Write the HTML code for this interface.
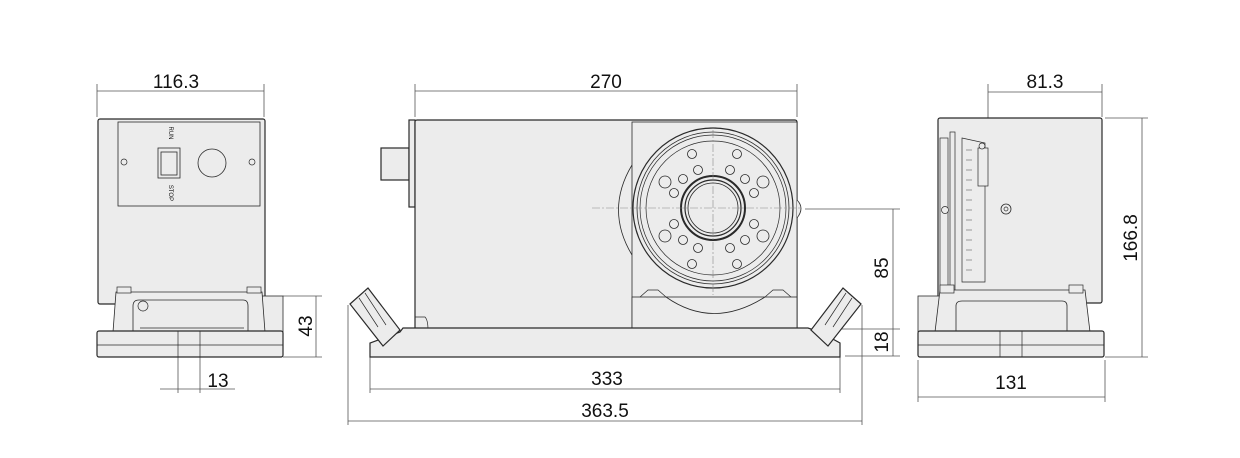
<!DOCTYPE html>
<html><head><meta charset="utf-8"><style>
html,body{margin:0;padding:0;background:#fff;}
svg{display:block;}
text{font-family:"Liberation Sans",Arial,sans-serif;fill:#111;}
</style></head><body>
<svg width="1240" height="458" viewBox="0 0 1240 458" xmlns="http://www.w3.org/2000/svg">
<g fill="none" stroke="#555" stroke-width="0.8">
<!-- LEFT dims -->
<line x1="97" y1="84" x2="97" y2="117"/><line x1="264" y1="84" x2="264" y2="117"/>
<line x1="97" y1="91" x2="264" y2="91"/>
<line x1="283" y1="296" x2="322" y2="296"/><line x1="283" y1="357" x2="322" y2="357"/>
<line x1="316" y1="296" x2="316" y2="357"/>
<line x1="178" y1="357" x2="178" y2="393"/><line x1="200" y1="357" x2="200" y2="393"/>
<line x1="160" y1="389" x2="235" y2="389"/>
<!-- MIDDLE dims -->
<line x1="415" y1="84" x2="415" y2="117"/><line x1="797" y1="84" x2="797" y2="117"/>
<line x1="415" y1="91" x2="797" y2="91"/>
<line x1="370" y1="345" x2="370" y2="393"/><line x1="840" y1="345" x2="840" y2="393"/>
<line x1="370" y1="389" x2="840" y2="389"/>
<line x1="348" y1="305" x2="348" y2="425"/><line x1="862" y1="305" x2="862" y2="425"/>
<line x1="348" y1="421" x2="862" y2="421"/>
<line x1="805" y1="209" x2="900" y2="209"/><line x1="815" y1="329" x2="900" y2="329"/><line x1="845" y1="356" x2="900" y2="356"/>
<line x1="893" y1="209" x2="893" y2="356"/>
<!-- RIGHT dims -->
<line x1="988" y1="84" x2="988" y2="125"/><line x1="1102" y1="84" x2="1102" y2="117"/>
<line x1="988" y1="92" x2="1102" y2="92"/>
<line x1="1105" y1="118" x2="1148" y2="118"/><line x1="1105" y1="357" x2="1148" y2="357"/>
<line x1="1142" y1="118" x2="1142" y2="357"/>
<line x1="918" y1="360" x2="918" y2="402"/><line x1="1105" y1="360" x2="1105" y2="402"/>
<line x1="918" y1="397" x2="1105" y2="397"/>
</g>

<g stroke="#2a2a2a" stroke-width="1.2" fill="#ececec">
<!-- LEFT VIEW -->
<rect x="98" y="119" width="167" height="185" rx="2"/>
<rect x="118" y="122" width="142" height="84" stroke-width="0.8"/>
<rect x="158" y="148" width="22" height="30" stroke-width="0.8"/>
<rect x="161" y="152" width="16" height="23" stroke-width="0.8"/>
<circle cx="212" cy="163" r="14" stroke-width="0.8"/>
<circle cx="124" cy="162" r="3" stroke-width="0.7"/>
<circle cx="252" cy="162" r="3" stroke-width="0.7"/>
<rect x="262" y="296" width="21" height="36" stroke-width="0.8"/>
<path d="M116 292 L262 292 L265 332 L113 332 Z" stroke-width="0.8"/>
<rect x="117" y="287" width="14" height="6" stroke-width="0.7"/>
<rect x="247" y="287" width="14" height="6" stroke-width="0.7"/>
<path d="M133 332 L133 306 Q133 300 139 300 L243 300 Q248 300 248 306 L248 332" stroke-width="0.8"/>
<path d="M140 328 L244 328" stroke-width="0.8"/>
<rect x="97" y="331" width="186" height="26" rx="2"/>
<line x1="97" y1="345" x2="283" y2="345" stroke-width="0.7"/>
<line x1="178" y1="331" x2="178" y2="357" stroke-width="0.7"/>
<line x1="200" y1="331" x2="200" y2="357" stroke-width="0.7"/>
<circle cx="143" cy="306" r="5" stroke-width="0.7"/>

<!-- MIDDLE VIEW -->
<rect x="381" y="148" width="28" height="32"/>
<rect x="409" y="120" width="6" height="87"/>
<rect x="415" y="120" width="382" height="210" rx="2"/>
<path d="M632 165 Q605 210 632 255" fill="none" stroke-width="0.8"/>
<rect x="632" y="122" width="165" height="205" stroke-width="0.8"/>
<path d="M797 200 Q805 208 797 218" stroke-width="0.8"/>
<rect x="632" y="297" width="165" height="33" stroke-width="0.8"/>
<path d="M640 297 L648 290 L658 290 L666 297 M765 297 L773 290 L783 290 L791 297" fill="none" stroke-width="0.7"/>
<path d="M666 297 Q713 330 765 297" fill="none" stroke-width="0.8"/>
<circle cx="713" cy="208" r="80"/>
<circle cx="713" cy="208" r="76" stroke-width="0.8"/>
<circle cx="713" cy="208" r="73" stroke-width="0.7"/>
<circle cx="713" cy="208" r="67" stroke-width="0.7"/>
<circle cx="713" cy="208" r="32" stroke-width="2"/>
<circle cx="713" cy="208" r="28" stroke-width="1.2"/>
<circle cx="713" cy="208" r="25" stroke-width="0.8"/>
<g stroke-width="0.8">
<circle cx="692" cy="154" r="4.5"/><circle cx="737" cy="154" r="4.5"/>
<circle cx="698" cy="170" r="4.5"/><circle cx="730" cy="170" r="4.5"/>
<circle cx="683" cy="179" r="4.5"/><circle cx="745" cy="179" r="4.5"/>
<circle cx="665" cy="182" r="6"/><circle cx="763" cy="182" r="6"/>
<circle cx="674" cy="193" r="4.5"/><circle cx="754" cy="193" r="4.5"/>
<circle cx="674" cy="224" r="4.5"/><circle cx="754" cy="224" r="4.5"/>
<circle cx="665" cy="236" r="6"/><circle cx="763" cy="236" r="6"/>
<circle cx="683" cy="240" r="4.5"/><circle cx="745" cy="240" r="4.5"/>
<circle cx="698" cy="248" r="4.5"/><circle cx="730" cy="248" r="4.5"/>
<circle cx="692" cy="264" r="4.5"/><circle cx="737" cy="264" r="4.5"/>
</g>
<path d="M415 330 L415 317 L425 317 Q428 320 428 330" fill="none" stroke-width="0.7"/>
<path d="M370 357 L370 343 L400 332 L403 328 L415 328 L808 328 L820 332 L840 343 L840 357 Z"/>
<path d="M350 304 L368 288 L400 330 L383 346 Z"/>
<path d="M359 298 L378 327 M365 293 L386 325" fill="none" stroke-width="0.7"/>
<path d="M861 304 L843 288 L811 330 L828 346 Z"/>
<path d="M852 298 L833 327 M846 293 L825 325" fill="none" stroke-width="0.7"/>

<!-- RIGHT VIEW -->
<rect x="938" y="118" width="164" height="185" rx="2"/>
<rect x="940" y="138" width="8" height="155" stroke-width="0.7"/>
<rect x="950" y="132" width="5" height="160" stroke-width="0.7"/>
<path d="M962 138 L985 143 L985 282 L962 282 Z" stroke-width="0.7"/>
<rect x="978" y="148" width="10" height="38" stroke-width="0.7"/>
<circle cx="982" cy="146" r="3" stroke-width="0.7"/>
<circle cx="945" cy="210" r="3.5" stroke-width="0.7"/>
<circle cx="1006" cy="209" r="5" stroke-width="0.8"/>
<circle cx="1006" cy="209" r="2" stroke-width="0.7"/>
<rect x="918" y="296" width="22" height="36" stroke-width="0.8"/>
<path d="M940 290 L1085 290 L1090 332 L935 332 Z" stroke-width="0.8"/>
<rect x="940" y="285" width="14" height="8" stroke-width="0.7"/>
<rect x="1069" y="285" width="14" height="8" stroke-width="0.7"/>
<path d="M956 332 L956 306 Q956 301 962 301 L1062 301 Q1067 301 1067 306 L1067 332" fill="none" stroke-width="0.8"/>
<rect x="918" y="331" width="186" height="26" rx="2"/>
<line x1="918" y1="345" x2="1104" y2="345" stroke-width="0.7"/>
<line x1="1000" y1="331" x2="1000" y2="357" stroke-width="0.7"/>
<line x1="1022" y1="331" x2="1022" y2="357" stroke-width="0.7"/>
</g>
<g stroke="#888" stroke-width="0.6" stroke-dasharray="8 2 2 2" fill="none">
<line x1="592" y1="208" x2="800" y2="208"/>
<line x1="713" y1="130" x2="713" y2="295"/>
</g>
<g stroke="#444" stroke-width="0.5">
<line x1="966" y1="150" x2="972" y2="150"/><line x1="966" y1="160" x2="972" y2="160"/><line x1="966" y1="170" x2="972" y2="170"/><line x1="966" y1="180" x2="972" y2="180"/><line x1="966" y1="190" x2="972" y2="190"/><line x1="966" y1="200" x2="972" y2="200"/><line x1="966" y1="210" x2="972" y2="210"/><line x1="966" y1="220" x2="972" y2="220"/><line x1="966" y1="230" x2="972" y2="230"/><line x1="966" y1="240" x2="972" y2="240"/><line x1="966" y1="250" x2="972" y2="250"/><line x1="966" y1="260" x2="972" y2="260"/><line x1="966" y1="270" x2="972" y2="270"/>
</g>
<text x="169" y="133" font-size="6" transform="rotate(90 169 133)" text-anchor="middle">RUN</text>
<text x="169" y="193" font-size="6" transform="rotate(90 169 193)" text-anchor="middle">STOP</text>

<g font-size="19">
<text x="176" y="88" text-anchor="middle">116.3</text>
<text x="606" y="88" text-anchor="middle">270</text>
<text x="1045" y="88" text-anchor="middle">81.3</text>
<text x="218" y="387" text-anchor="middle">13</text>
<text x="607" y="385" text-anchor="middle">333</text>
<text x="605" y="417" text-anchor="middle">363.5</text>
<text x="1011" y="389" text-anchor="middle">131</text>
<text transform="translate(312 326) rotate(-90)" text-anchor="middle">43</text>
<text transform="translate(888 268) rotate(-90)" text-anchor="middle">85</text>
<text transform="translate(888 342) rotate(-90)" text-anchor="middle">18</text>
<text transform="translate(1137 238) rotate(-90)" text-anchor="middle">166.8</text>
</g>
</svg>
</body></html>
